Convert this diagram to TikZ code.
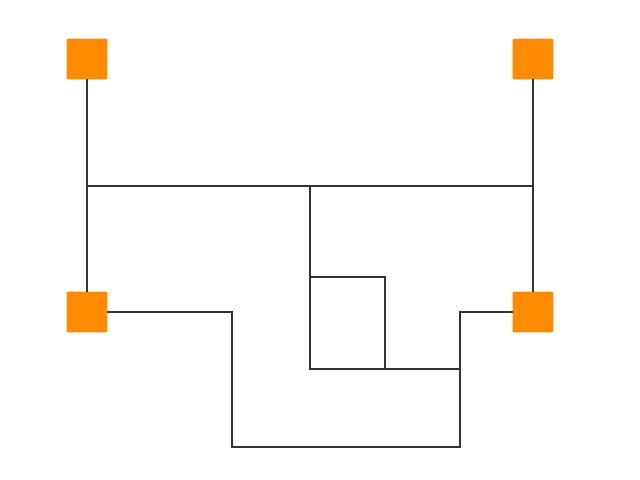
\documentclass[tikz,border=0pt]{standalone}
\usetikzlibrary{%
    positioning
}
\definecolor{boxorange}{HTML}{FF8C00}
\definecolor{wire}{HTML}{333333}
\tikzset{
    port/.style = {
        rectangle, fill=boxorange, draw=none,
        rounded corners=0.04cm,
        minimum width = 0.82cm,
        minimum height = 0.82cm,
        inner sep=0pt, outer sep=0pt,
    },
    wire/.style = {
        draw=wire, line width=0.85pt,
    }
}

\begin{document}
\begin{tikzpicture}[x=0.02cm, y=-0.02cm]
    \useasboundingbox (0, 0) rectangle (640, 480);
    \node[port] (topleft) at (87, 59) {};
    \node[port] (topright) at (533, 59) {};
    \node[port] (botleft) at (87, 312) {};
    \node[port] (botright) at (533, 312) {};
    % junctions on the upper bus
    \coordinate (busleft) at (87, 186);
    \coordinate (busright) at (533, 186);
    \coordinate (busmid) at (310, 186);
    % inner loop
    \coordinate (loopa) at (310, 277);
    \coordinate (loopb) at (385, 277);
    \coordinate (loopc) at (385, 369);
    \coordinate (loopd) at (310, 369);
    \coordinate (loope) at (460, 369);
    % lower route
    \coordinate (lowa) at (232, 312);
    \coordinate (lowb) at (232, 447);
    \coordinate (lowc) at (460, 447);
    \coordinate (lowd) at (460, 312);
    \draw[wire] (topleft.south) -- (busleft) -- (botleft.north);
    \draw[wire] (topright.south) -- (busright) -- (botright.north);
    \draw[wire] (busleft) -- (busmid) -- (busright);
    \draw[wire] (busmid) -- (loopa) -- (loopd) -- (loopc) -- (loope);
    \draw[wire] (loopa) -- (loopb) -- (loopc);
    \draw[wire] (botleft.east) -- (lowa) -- (lowb) -- (lowc) -- (loope) -- (lowd) -- (botright.west);
\end{tikzpicture}
\end{document}
